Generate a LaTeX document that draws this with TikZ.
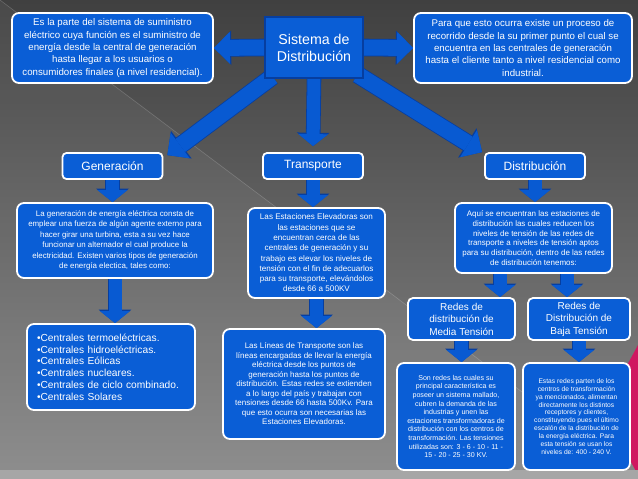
\documentclass[tikz,border=0pt]{standalone}
\usepackage{fontspec}
\setmainfont{Liberation Sans}
\usetikzlibrary{arrows.meta,backgrounds}
\definecolor{boxblue}{RGB}{10,94,214}
\definecolor{arrowblue}{RGB}{8,90,210}
\definecolor{lineblue}{RGB}{6,62,160}
\definecolor{bgtop}{RGB}{64,64,64}
\definecolor{bgbottom}{RGB}{136,136,136}
\definecolor{pinkish}{RGB}{208,24,96}

\begin{document}
\begin{tikzpicture}[x=1pt, y=-1pt,
    txtbox/.style={draw=white, line width=1.8pt, fill=boxblue, rounded corners=7pt, text=white, align=center, inner sep=0pt},
    headbox/.style={draw=white, line width=1.8pt, fill=boxblue, rounded corners=4pt, text=white, inner sep=0pt, minimum width=100pt, minimum height=26pt, font=\fontsize{12}{14}\selectfont},
    arr/.style={arrowblue, line width=13pt, -{Triangle[width=30pt,length=12pt,line width=0pt]}, preaction={draw=lineblue, line width=14.6pt, -{Triangle[width=32.6pt,length=13.4pt,line width=0pt]}}},
    bigarr/.style={arrowblue, line width=16pt, -{Triangle[width=32pt,length=16pt,line width=0pt]}, preaction={draw=lineblue, line width=17.6pt, -{Triangle[width=34.6pt,length=17.4pt,line width=0pt]}}}
  ]
  \useasboundingbox (0,0) rectangle (638,479);
  \begin{scope}[on background layer]
    \fill[top color=bgtop, bottom color=bgbottom] (0,0) rectangle (638,479);
    \fill[white, opacity=.05] (0,0) -- (638,479) -- (0,479) -- cycle;
    \draw[white, opacity=.18, line width=.6pt] (0,0) -- (638,479);
    \fill[pinkish] (638,345) -- (603,410) -- (638,475) -- cycle;
    \fill[gray!70] (0,470) rectangle (638,479);
  \end{scope}

  % top row
  \node[draw=lineblue, line width=1.2pt, fill=boxblue, text=white, align=center, minimum width=98pt, minimum height=61pt, font=\fontsize{14.2}{17}\selectfont] (sis) at (314,47.5) {Sistema de\\Distribución};
  \node[txtbox, minimum width=201pt, minimum height=70pt, font=\fontsize{9.7}{12.4}\selectfont] (izq) at (112.5,48)
    {Es la parte del sistema de suministro\\eléctrico cuya función es el suministro de\\energía desde la central de generación\\hasta llegar a los usuarios o\\consumidores finales (a nivel residencial).};
  \node[txtbox, minimum width=218pt, minimum height=70pt, font=\fontsize{9.7}{12.4}\selectfont] (der) at (523,48)
    {Para que esto ocurra existe un proceso de\\recorrido desde la su primer punto el cual se\\encuentra en las centrales de generación\\hasta el cliente tanto a nivel residencial como\\industrial.};

  % heads
  \node[headbox] (gen) at (112.5,166) {Generación};
  \node[headbox] (tra) at (313,166) {Transporte};
  \node[headbox] (dis) at (535,166) {Distribución};

  % generacion
  \node[txtbox, minimum width=196pt, minimum height=75pt, font=\fontsize{7.9}{10.5}\selectfont] (gentxt) at (115,240.5)
    {La generación de energía eléctrica consta de\\emplear una fuerza de algún agente externo para\\hacer girar una turbina, esta a su vez hace\\funcionar un alternador el cual produce la\\electricidad. Existen varios tipos de generación\\de energía electica, tales como:};
  \node[txtbox, align=left, inner xsep=10pt, text width=148pt, minimum height=86pt, font=\fontsize{10.2}{11.8}\selectfont] (cen) at (111,367)
    {•Centrales termoeléctricas.\\•Centrales hidroeléctricas.\\•Centrales Eólicas\\•Centrales nucleares.\\•Centrales de ciclo combinado.\\•Centrales Solares};

  % transporte
  \node[txtbox, minimum width=137pt, minimum height=90pt, font=\fontsize{8.1}{10.3}\selectfont] (tratxt) at (316.5,253)
    {Las Estaciones Elevadoras son\\las estaciones que se\\encuentran cerca de las\\centrales de generación y su\\trabajo es elevar los niveles de\\tensión con el fin de adecuarlos\\para su transporte, elevándolos\\desde 66 a 500KV};
  \node[txtbox, minimum width=162pt, minimum height=110pt, font=\fontsize{8}{9.5}\selectfont] (lin) at (304,384)
    {Las Líneas de Transporte son las\\líneas encargadas de llevar la energía\\eléctrica desde los puntos de\\generación hasta los puntos de\\distribución. Estas redes se extienden\\a lo largo del país y trabajan con\\tensiones desde 66 hasta 500Kv. Para\\que esto ocurra son necesarias las\\Estaciones Elevadoras.};

  % distribucion
  \node[txtbox, minimum width=157pt, minimum height=70pt, font=\fontsize{8}{9.7}\selectfont] (distxt) at (533.5,238)
    {Aquí se encuentran las estaciones de\\distribución las cuales reducen los\\niveles de tensión de las redes de\\transporte a niveles de tensión aptos\\para su distribución, dentro de las redes\\de distribución tenemos:};
  \node[txtbox, rounded corners=5pt, minimum width=107pt, minimum height=42pt, font=\fontsize{10}{12.5}\selectfont] (media) at (461.5,319) {Redes de\\distribución de\\Media Tensión};
  \node[txtbox, rounded corners=5pt, minimum width=102pt, minimum height=42pt, font=\fontsize{10}{12.5}\selectfont] (baja) at (579,319) {Redes de\\Distribución de\\Baja Tensión};
  \node[txtbox, minimum width=118pt, minimum height=107pt, font=\fontsize{7.1}{8.6}\selectfont] (mediatxt) at (456,416.5)
    {Son redes las cuales su\\principal característica es\\poseer un sistema mallado,\\cubren la demanda de las\\industrias y unen las\\estaciones transformadoras de\\distribución con los centros de\\transformación. Las tensiones\\utilizadas son: 3 - 6 - 10 - 11 -\\15 - 20 - 25 - 30 KV.};
  \node[txtbox, minimum width=107pt, minimum height=107pt, font=\fontsize{6.7}{7.9}\selectfont] (bajatxt) at (576.5,416.5)
    {Estas redes parten de los\\centros de transformación\\ya mencionados, alimentan\\directamente los distintos\\receptores y clientes,\\constituyendo pues el último\\escalón de la distribución de\\la energía eléctrica. Para\\esta tensión se usan los\\niveles de: 400 - 240 V.};

  % arrows behind the boxes
  \begin{scope}[on background layer]
    \draw[bigarr] (sis.west) -- (izq.east);
    \draw[bigarr] (sis.east) -- (der.west);
    \draw[bigarr] ([xshift=8pt,yshift=2pt]sis.south west) -- ([xshift=4pt,yshift=-3pt]gen.north east);
    \draw[arr] (sis.south) -- ([yshift=6pt]tra.north);
    \draw[bigarr] ([xshift=-6pt,yshift=4pt]sis.south east) -- ([xshift=-2pt]dis.north west);
    \draw[arr] (gen.south) -- (gen.south |- gentxt.north);
    \draw[arr] (gentxt.south) -- (gentxt.south |- cen.north);
    \draw[arr] (tra.south) -- (tra.south |- tratxt.north);
    \draw[arr] (tratxt.south) -- (tratxt.south |- lin.north);
    \draw[arr] (dis.south) -- (dis.south |- distxt.north);
    \draw[arr] ([xshift=-33.5pt]distxt.south) -- ([xshift=-33.5pt]distxt.south |- media.north);
    \draw[arr] ([xshift=33.5pt]distxt.south) -- ([xshift=33.5pt]distxt.south |- baja.north);
    \draw[arr] (media.south) -- (media.south |- mediatxt.north);
    \draw[arr] (baja.south) -- (baja.south |- bajatxt.north);
  \end{scope}
\end{tikzpicture}
\end{document}
